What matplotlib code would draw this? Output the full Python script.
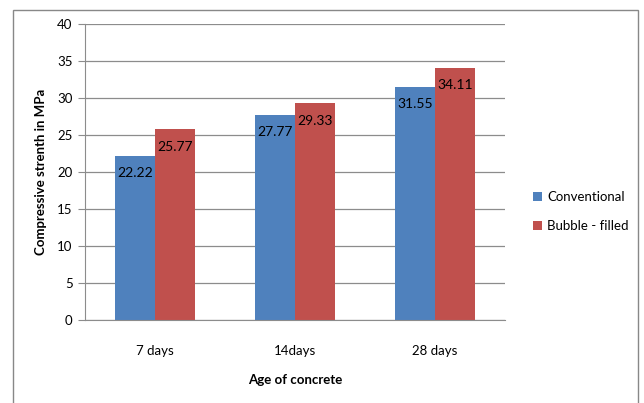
import numpy as np
import matplotlib.pyplot as plt
from matplotlib.patches import Rectangle

plt.rcParams['font.family'] = ['Lato', 'DejaVu Sans']

# compressive strength (MPa) by curing age
ages = ['7 days', '14days', '28 days']
conventional = [22.22, 27.77, 31.55]
bubble_filled = [25.77, 29.33, 34.11]
series_names = ['Conventional', 'Bubble - filled']
yticks = [0, 5, 10, 15, 20, 25, 30, 35, 40]

blue = '#4F81BD'
red = '#C0504D'

W, H = 644, 403
fig = plt.figure(figsize=(W / 100, H / 100), dpi=100)

# outer chart frame
fig.patches.append(Rectangle((13 / W, -0.05), 625 / W, 1 - 10 / H + 0.05,
                             transform=fig.transFigure, fill=False,
                             edgecolor='#888888', linewidth=1.0))

ax = fig.add_axes([85 / W, 1 - 320 / H, 420 / W, 296 / H])

x = np.arange(len(ages))
bw = 0.2857
b1 = ax.bar(x - bw / 2, conventional, bw, color=blue, label=series_names[0])
b2 = ax.bar(x + bw / 2, bubble_filled, bw, color=red, label=series_names[1])

for bars, vals in ((b1, conventional), (b2, bubble_filled)):
    for b, v in zip(bars, vals):
        ax.text(b.get_x() + b.get_width() / 2, v - 1.6, f'{v:.2f}',
                ha='center', va='top', fontsize=10, color='black')

ax.set_xlim(-0.5, len(ages) - 0.5)
ax.set_ylim(0, 40)
ax.set_yticks(yticks)
ax.yaxis.grid(True, color='#8c8c8c', linewidth=0.9)
ax.set_axisbelow(True)

for s in ['top', 'right']:
    ax.spines[s].set_visible(False)
ax.spines['left'].set_color('#8c8c8c')
ax.spines['bottom'].set_color('#8c8c8c')

ax.set_xticks(x)
ax.set_xticklabels(ages, fontsize=9.5)
ax.tick_params(axis='x', length=0, pad=18)
ax.tick_params(axis='y', length=5, color='#8c8c8c', labelsize=9.5, pad=4)

ax.set_xlabel('Age of concrete', fontsize=9.5, fontweight='bold', labelpad=12)
ax.set_ylabel('Compressive strenth in MPa', fontsize=9.5, fontweight='bold',
              labelpad=7)

fig.legend(handles=[b1, b2], loc='upper left',
           bbox_to_anchor=(521 / W, 1 - 179 / H), frameon=False,
           fontsize=9.5, handlelength=0.7, handleheight=0.7,
           handletextpad=0.4, labelspacing=1.3)

fig.savefig('out.png', dpi=100)
